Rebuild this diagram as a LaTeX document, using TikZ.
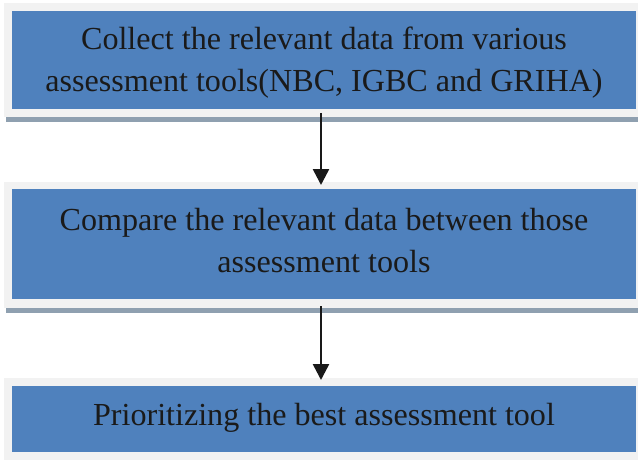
\documentclass[tikz,border=0pt]{standalone}
\usepackage{fontspec}
\setmainfont{Liberation Serif}
\usetikzlibrary{arrows.meta}
\definecolor{boxblue}{RGB}{79,129,189}
\definecolor{framegray}{RGB}{242,242,242}
\definecolor{bargray}{RGB}{143,160,176}
\definecolor{txt}{RGB}{26,26,26}
\begin{document}
\begin{tikzpicture}[x=1pt,y=-1pt,
  frame/.style={fill=framegray,draw=none,inner sep=0,outer sep=0,anchor=north west},
  bar/.style={fill=bargray,draw=none,inner sep=0,outer sep=0,anchor=north west,minimum height=5pt},
  stepbox/.style={fill=boxblue,draw=none,inner sep=0,outer sep=0,anchor=north west,minimum width=624pt},
  steptext/.style={text=txt,font=\fontsize{32.1}{42}\selectfont,align=center,inner sep=0},
  flow/.style={draw=black!90,line width=2.6pt,-{Triangle[width=16pt,length=16pt]}}]
\useasboundingbox (0,0) rectangle (638,460);
\fill[white] (0,0) rectangle (638,460);
% step 1
\node[frame,minimum width=634pt,minimum height=114pt] (out1) at (4,3) {};
\node[bar,minimum width=632pt] (bar1) at (6,117) {};
\node[stepbox,minimum height=98pt] (box1) at (12,11) {};
\node[steptext] (t1) at ([yshift=-3pt]box1.center) {Collect the relevant data from various\\assessment tools(NBC, IGBC and GRIHA)};
% step 2
\node[frame,minimum width=634pt,minimum height=126pt] (out2) at (4,182) {};
\node[bar,minimum width=632pt] (bar2) at (6,308) {};
\node[stepbox,minimum height=110pt] (box2) at (12,189) {};
\node[steptext] (t2) at ([yshift=3pt]box2.center) {Compare the relevant data between those\\assessment tools};
% step 3
\node[frame,minimum width=634pt,minimum height=82pt] (out3) at (4,378) {};
\node[stepbox,minimum height=66pt] (box3) at (12,386) {};
\node[steptext] (t3) at ([yshift=1pt]box3.center) {Prioritizing the best assessment tool};
% arrows
\draw[flow] ([yshift=4pt]out1.south) -- ([yshift=-3pt]out2.north);
\draw[flow] ([yshift=2pt]out2.south) -- ([yshift=-2pt]out3.north);
\end{tikzpicture}
\end{document}
